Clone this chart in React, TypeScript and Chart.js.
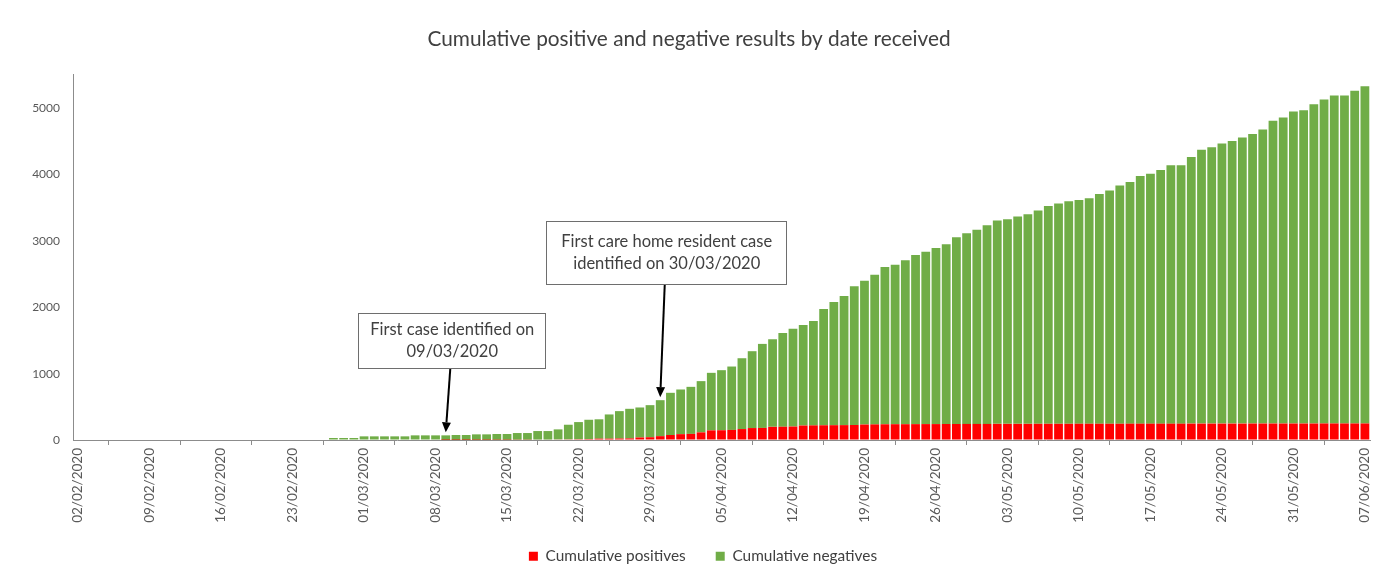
import React, { useEffect, useRef } from "react";
import { Chart, registerables } from "chart.js";

Chart.register(...registerables);

// ---- Data ----
const chartTitle = "Cumulative positive and negative results by date received";
const seriesNames = ["Cumulative positives", "Cumulative negatives"];

// one tick every 7 days, starting 02/02/2020 (day index 0) to 07/06/2020 (day index 126)
const tickLabels = [
  "02/02/2020", "09/02/2020", "16/02/2020", "23/02/2020", "01/03/2020", "08/03/2020",
  "15/03/2020", "22/03/2020", "29/03/2020", "05/04/2020", "12/04/2020", "19/04/2020",
  "26/04/2020", "03/05/2020", "10/05/2020", "17/05/2020", "24/05/2020", "31/05/2020",
  "07/06/2020",
];
const tickStepDays = 7;
const dayCount = 127;

// daily cumulative positives (02/02/2020 .. 07/06/2020)
const positives = [
  0, 0, 0, 0, 0, 0, 0, 0, 0, 0, 0, 0, 0, 0, 0, 0, 0, 0, 0, 0, 0, 0, 0, 0, 0, 0, 0, 0, 0, 0, 0, 0, 0, 0, 0, 0,
  1, 1, 1, 2, 2, 3, 3, 5, 5, 7, 7, 9, 10, 12, 14,
  20, 20, 22, 24, 38, 42, 58, 75, 88, 92, 115, 145, 147, 152, 165, 180, 182, 198, 200, 203,
  218, 220, 222, 223, 224, 226, 233, 235, 237, 238, 238, 239, 240, 240,
  241, 241, 242, 242, 242, 243, 243, 243, 243, 244, 244, 244, 244, 245, 245, 245, 245, 245,
  246, 246, 246, 246, 246, 246, 247, 247, 247, 247, 247, 247, 248, 248, 248, 248, 248, 248,
  248, 249, 249, 249, 249, 249,
];

// daily cumulative negatives (02/02/2020 .. 07/06/2020)
const negatives = [
  0, 0, 0, 0, 0, 0, 0, 0, 0, 0, 0, 0, 0, 0, 0, 0, 0, 0, 0, 0, 0, 0, 0, 0, 0,
  30, 30, 30, 55, 55, 55, 55, 55, 70, 70, 70,
  69, 74, 74, 83, 83, 87, 87, 100, 100, 128, 128, 151, 220, 258, 291,
  292, 365, 413, 446, 452, 483, 542, 636, 673, 709, 772, 867, 905, 955, 1067, 1158, 1266, 1320,
  1413, 1475, 1515, 1574, 1752, 1856, 1945, 2089, 2167, 2255, 2368, 2402, 2472, 2547, 2596, 2651,
  2709, 2815, 2874, 2924, 2994, 3064, 3084, 3124, 3159, 3213, 3283, 3318, 3353, 3372, 3397,
  3462, 3513, 3588, 3642, 3732, 3767, 3822, 3892, 3892, 4016, 4127, 4162, 4222, 4257, 4312,
  4361, 4431, 4562, 4612, 4702, 4722, 4812, 4881, 4941, 4941, 5012, 5082,
];

const yTickValues = [0, 1000, 2000, 3000, 4000, 5000];
const yMax = 5500;

// call-out notes
const notes = [
  { dayIndex: 36, lines: ["First case identified on", "09/03/2020"], boxTopValue: 1909, boxBottomValue: 1082, boxWidth: 187 },
  { dayIndex: 57, lines: ["First care home resident case", "identified on 30/03/2020"], boxTopValue: 3307, boxBottomValue: 2345, boxWidth: 240 },
];

const FONT = "Lato, 'Open Sans', sans-serif";
const TEXT = "#404040";
const AXIS = "#8c8c8c";

const notePlugin = {
  id: "notes",
  afterLayout(chart: any) {
    // legend in the reference sits slightly right of the canvas centre
    if (chart.legend) {
      chart.legend.left += 14;
      chart.legend.right += 14;
    }
  },
  afterDatasetsDraw(chart: any) {
    const ctx = chart.ctx;
    const xs = chart.scales.x;
    const ys = chart.scales.y;
    ctx.save();
    for (const n of notes) {
      const barX = xs.getPixelForValue(n.dayIndex + 0.5);
      const cx = barX + 5.5;
      const top = Math.round(ys.getPixelForValue(n.boxTopValue));
      const bottom = Math.round(ys.getPixelForValue(n.boxBottomValue));
      const left = Math.round(cx - n.boxWidth / 2);
      ctx.fillStyle = "#ffffff";
      ctx.fillRect(left, top, n.boxWidth, bottom - top);
      ctx.strokeStyle = "#6e6e6e";
      ctx.lineWidth = 1;
      ctx.strokeRect(left + 0.5, top + 0.5, n.boxWidth, bottom - top);
      ctx.fillStyle = TEXT;
      ctx.font = `16.5px ${FONT}`;
      ctx.textAlign = "center";
      ctx.textBaseline = "middle";
      const mid = (top + bottom) / 2;
      const gap = 22;
      n.lines.forEach((ln, k) => {
        ctx.fillText(ln, cx + 1, mid + (k - (n.lines.length - 1) / 2) * gap);
      });
      // arrow
      const total = positives[n.dayIndex] + negatives[n.dayIndex];
      const tipX = barX;
      const tipY = ys.getPixelForValue(total) - 3;
      const sx = cx - 1;
      const sy = bottom + 1;
      const ang = Math.atan2(tipY - sy, tipX - sx);
      const headLen = 10;
      const headW = 4.5;
      const bx = tipX - headLen * Math.cos(ang);
      const by = tipY - headLen * Math.sin(ang);
      ctx.strokeStyle = "#000000";
      ctx.lineWidth = 2;
      ctx.beginPath();
      ctx.moveTo(sx, sy);
      ctx.lineTo(bx, by);
      ctx.stroke();
      ctx.fillStyle = "#000000";
      ctx.beginPath();
      ctx.moveTo(tipX, tipY);
      ctx.lineTo(bx + headW * Math.sin(ang), by - headW * Math.cos(ang));
      ctx.lineTo(bx - headW * Math.sin(ang), by + headW * Math.cos(ang));
      ctx.closePath();
      ctx.fill();
    }
    ctx.restore();
  },
};

export default function App() {
  const ref = useRef<HTMLCanvasElement | null>(null);

  useEffect(() => {
    document.body.style.margin = "0";
    const canvas = ref.current;
    if (!canvas) return;
    const chart = new Chart(canvas, {
      type: "bar",
      data: {
        datasets: [
          {
            label: seriesNames[0],
            data: positives.map((v, i) => ({ x: i + 0.5, y: v })),
            backgroundColor: "#ff0000",
            borderWidth: 0,
          },
          {
            label: seriesNames[1],
            data: negatives.map((v, i) => ({ x: i + 0.5, y: v })),
            backgroundColor: "#70ad47",
            borderWidth: 0,
          },
        ],
      },
      options: {
        animation: false,
        responsive: false,
        maintainAspectRatio: false,
        layout: { padding: { left: 0, right: 1, top: 0, bottom: 0 } },
        datasets: { bar: { categoryPercentage: 1, barPercentage: 0.86 } },
        plugins: {
          title: {
            display: true,
            text: chartTitle,
            color: TEXT,
            font: { family: FONT, size: 20.8, weight: "normal" },
            padding: { top: 27.3, bottom: 22.7 },
          },
          legend: {
            position: "bottom",
            labels: {
              boxWidth: 9,
              boxHeight: 9,
              color: TEXT,
              font: { family: FONT, size: 15.4 },
              padding: 30,
            },
          },
          tooltip: { enabled: false },
        },
        scales: {
          x: {
            type: "linear",
            stacked: true,
            min: 0,
            max: dayCount,
            offset: false,
            afterBuildTicks: (scale: any) => {
              scale.ticks = tickLabels.map((_, k) => ({ value: k * tickStepDays }));
            },
            afterFit: (scale: any) => {
              scale.height = 78.6;
              // let the rotated labels run past the (short) axis box instead of being clipped
              scale._computeLabelArea = () => undefined;
            },
            ticks: {
              autoSkip: false,
              minRotation: 90,
              maxRotation: 90,
              labelOffset: 5,
              padding: 3,
              color: "#595959",
              font: { family: FONT, size: 13.5 },
              callback: (v: any) => tickLabels[Math.round(Number(v) / tickStepDays)] ?? "",
            },
            grid: { display: true, drawOnChartArea: false, drawTicks: true, tickLength: 5, color: AXIS },
            border: { display: true, color: AXIS, width: 1 },
          },
          y: {
            stacked: true,
            min: 0,
            max: yMax,
            afterBuildTicks: (scale: any) => {
              scale.ticks = yTickValues.map((v) => ({ value: v }));
            },
            afterFit: (scale: any) => {
              scale.width = 73;
            },
            ticks: {
              color: "#595959",
              font: { family: FONT, size: 12 },
              padding: 13,
              callback: (v: any) => String(v),
            },
            grid: { display: true, drawOnChartArea: false, drawTicks: false, color: AXIS },
            border: { display: true, color: AXIS, width: 1 },
          },
        },
      },
      plugins: [notePlugin],
    } as any);
    return () => chart.destroy();
  }, []);

  return (
    <div style={{ width: 1379, height: 574 }}>
      <canvas ref={ref} width={1379} height={574} style={{ display: "block" }} />
    </div>
  );
}
